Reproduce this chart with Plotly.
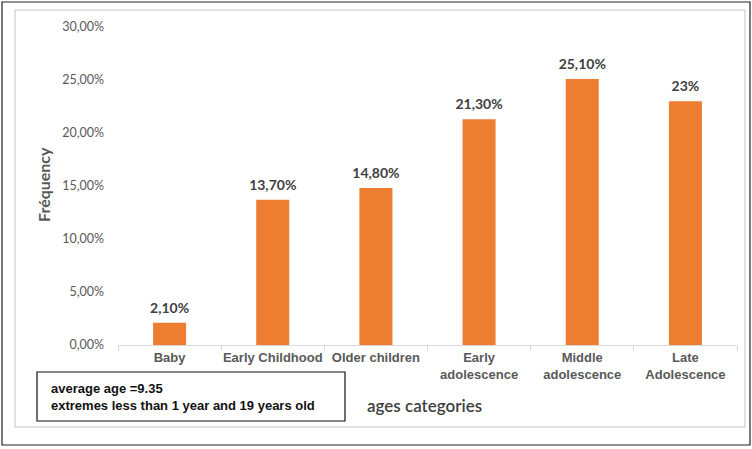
import plotly.graph_objects as go

categories = ["Baby", "Early Childhood", "Older children", "Early<br>adolescence",
              "Middle<br>adolescence", "Late<br>Adolescence"]
values = [0.021, 0.137, 0.148, 0.213, 0.251, 0.23]
value_labels = ["2,10%", "13,70%", "14,80%", "21,30%", "25,10%", "23%"]
y_ticks = [0, 0.05, 0.10, 0.15, 0.20, 0.25, 0.30]
y_tick_labels = ["0,00%", "5,00%", "10,00%", "15,00%", "20,00%", "25,00%", "30,00%"]

W, H = 752, 449
L, R, T, B = 118, 15, 27, 104
pw, ph = W - L - R, H - T - B

def px(x):
    return (x - L) / pw

def py(y):
    return (H - B - y) / ph

fig = go.Figure()
fig.add_trace(go.Bar(
    x=categories, y=values,
    marker=dict(color="#ED7D31", line=dict(width=0)),
    hoverinfo="skip",
))
fig.add_trace(go.Scatter(
    x=categories, y=values, text=value_labels, mode="markers+text",
    textposition="top center", cliponaxis=False,
    marker=dict(size=9, opacity=0),
    textfont=dict(family="Lato", size=14, color="#404040", weight="bold"),
    hoverinfo="skip",
))

fig.update_layout(
    width=W, height=H, margin=dict(l=L, r=R, t=T, b=B, autoexpand=False),
    paper_bgcolor="white", plot_bgcolor="white",
    bargap=0.68, showlegend=False,
    xaxis=dict(
        range=[-0.5, len(categories) - 0.5], automargin=False, tickangle=0,
        showline=True, linecolor="#D9D9D9", linewidth=1,
        ticks="outside", tickson="boundaries", ticklen=5, tickcolor="#D9D9D9",
        tickfont=dict(family="Liberation Sans", size=13, color="#595959", weight="bold"),
        showgrid=False,
    ),
    yaxis=dict(
        range=[0, 0.30], tickvals=y_ticks, ticktext=y_tick_labels, automargin=False,
        showgrid=False, zeroline=False, showline=False,
        tickfont=dict(family="Lato", size=12.5, color="#595959"),
        ticks="", ticklabelstandoff=13,
    ),
)

shapes = [
    dict(type="rect", xref="paper", yref="paper",
         x0=px(2), x1=px(750), y0=py(445), y1=py(2),
         line=dict(color="#222222", width=1.2)),
    dict(type="rect", xref="paper", yref="paper",
         x0=px(15), x1=px(745), y0=py(427), y1=py(10),
         line=dict(color="#D9D9D9", width=1.5)),
    dict(type="rect", xref="paper", yref="paper",
         x0=px(37), x1=px(345), y0=py(421), y1=py(372),
         line=dict(color="#111111", width=1.2), fillcolor="white"),
]
fig.update_layout(shapes=shapes)

fig.add_annotation(
    xref="paper", yref="paper", x=px(49), y=py(396.5), xanchor="left", yanchor="middle",
    text="average age =9.35<br>extremes less than 1 year and 19 years old",
    align="left", showarrow=False,
    font=dict(family="Liberation Sans", size=13, color="#111111", weight="bold"),
)
fig.add_annotation(
    xref="paper", yref="paper", x=px(424), y=py(405), xanchor="center", yanchor="middle",
    text="ages categories", showarrow=False,
    font=dict(family="Lato", size=17, color="#404040", weight=600),
)
fig.add_annotation(
    xref="paper", yref="paper", x=px(43), y=py(185), xanchor="center", yanchor="middle",
    text="Fréquency", textangle=-90, showarrow=False,
    font=dict(family="Lato", size=16, color="#595959", weight="bold"),
)

fig.write_html("out.html")
